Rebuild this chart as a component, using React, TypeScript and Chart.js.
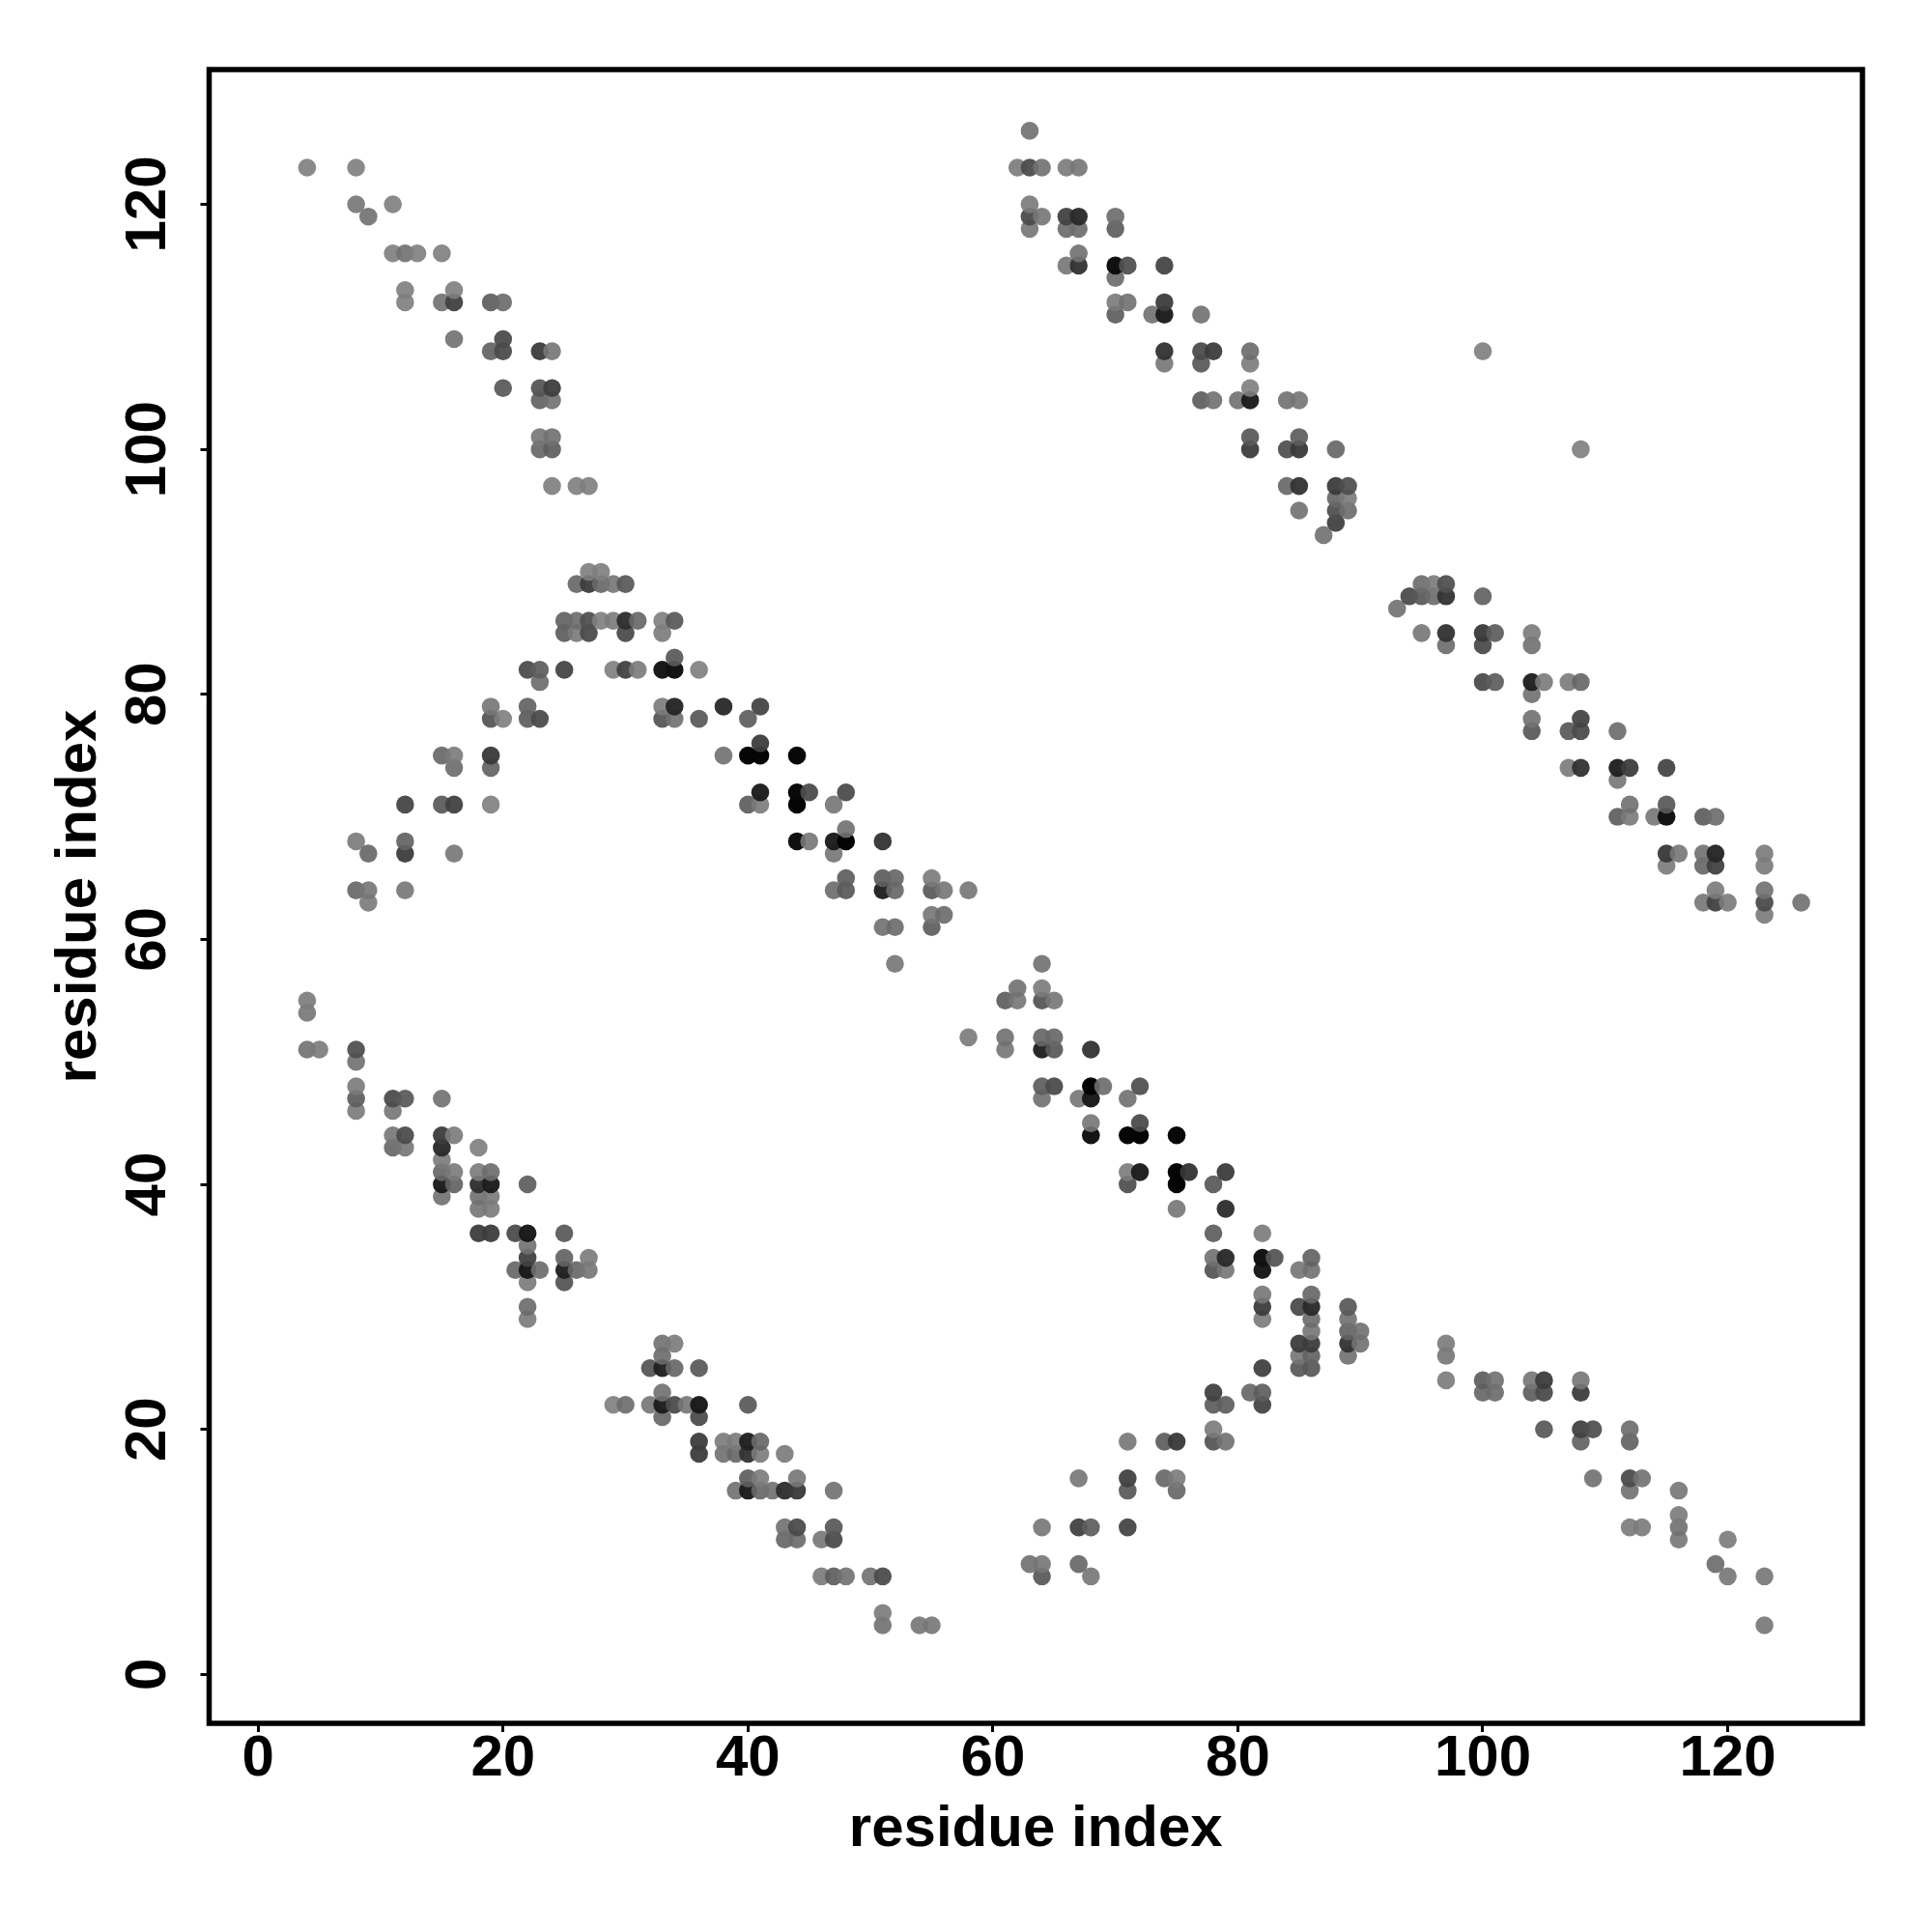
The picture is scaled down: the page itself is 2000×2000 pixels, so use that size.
import React, { useEffect, useRef } from "react";
import { Chart, registerables } from "chart.js";

Chart.register(...registerables);

// Each row: [residue y, x, grey, x, grey, ...]; grey is the printed level of the dot.
const upperLeftRows = [
  [123, 4, 138, 8, 138],
  [120, 8, 130, 11, 138],
  [119, 9, 125],
  [116, 11, 138, 12, 125, 13, 138, 15, 138],
  [113, 12, 138, 16, 138],
  [112, 12, 138, 15, 125, 16, 75, 19, 105, 20, 118],
  [109, 16, 125, 20, 85],
  [108, 19, 110, 20, 85, 23, 70, 24, 130],
  [105, 20, 100, 23, 95, 24, 72],
  [104, 23, 110, 24, 125],
  [101, 23, 130, 24, 125],
  [100, 23, 115, 24, 105],
  [97, 24, 138, 26, 138, 27, 138],
];

const middleLeftRows = [
  [90, 27, 138, 28, 138],
  [89, 26, 115, 27, 70, 28, 115, 29, 130, 30, 100],
  [86, 25, 110, 26, 120, 27, 90, 28, 138, 29, 135, 30, 55, 31, 115, 33, 138, 34, 100],
  [85, 25, 105, 26, 135, 27, 85, 30, 85, 33, 135],
  [83, 34, 100],
  [82, 22, 85, 23, 105, 25, 80, 29, 138, 30, 75, 31, 135, 33, 25, 34, 20, 36, 138],
  [81, 23, 120],
  [79, 19, 130, 22, 110, 33, 135, 34, 45, 38, 50],
  [78, 19, 95, 20, 138, 22, 105, 23, 85, 33, 95, 34, 125, 36, 100],
  [75, 15, 115, 16, 135, 19, 65, 38, 125],
  [74, 16, 120, 19, 110],
  [71, 12, 80, 15, 100, 16, 75, 19, 138],
  [68, 8, 135, 12, 110],
  [67, 9, 115, 12, 70, 16, 130],
  [64, 8, 115, 9, 130, 12, 130],
  [63, 9, 135],
];

const middleCentreRows = [
  [79, 41, 80],
  [78, 40, 105],
  [76, 41, 70],
  [75, 40, 5, 41, 5, 44, 8],
  [72, 41, 35, 44, 10, 45, 85, 48, 85],
  [71, 40, 105, 41, 135, 44, 5, 47, 130],
  [69, 48, 125],
  [68, 44, 15, 45, 130, 47, 35, 48, 3, 51, 60],
  [67, 47, 130],
  [65, 48, 105, 51, 105, 52, 115, 55, 135],
  [64, 47, 120, 48, 100, 51, 40, 52, 115, 55, 100, 56, 130, 58, 130],
  [62, 55, 130, 56, 120],
  [61, 51, 125, 52, 120, 55, 105],
  [58, 52, 130],
];

const lowerLeftRows = [
  [55, 4, 135],
  [54, 4, 130],
  [51, 4, 125, 5, 135, 8, 90],
  [50, 8, 125],
  [48, 8, 135],
  [47, 8, 105, 11, 85, 12, 100, 15, 125],
  [46, 8, 135, 11, 130],
  [44, 11, 130, 12, 85, 15, 70, 16, 135],
  [43, 11, 115, 12, 130, 15, 50, 18, 138],
  [42, 15, 135],
  [41, 15, 115, 16, 135, 18, 135, 19, 120],
  [40, 15, 35, 16, 110, 18, 55, 19, 35, 22, 105],
  [39, 15, 125, 18, 125, 19, 135],
  [38, 18, 130, 19, 135],
  [36, 18, 70, 19, 70, 21, 85, 22, 30, 25, 100],
  [35, 22, 125],
  [34, 22, 75, 25, 110, 27, 135],
  [33, 21, 115, 22, 30, 23, 120, 25, 40, 26, 115, 27, 130],
  [32, 22, 135, 25, 95],
  [30, 22, 120],
  [29, 22, 135],
];

const bottomCentreRows = [
  [27, 33, 125, 34, 135],
  [26, 33, 120],
  [25, 32, 95, 33, 40, 34, 115, 36, 100],
  [23, 33, 125],
  [22, 29, 138, 30, 120, 32, 130, 33, 35, 34, 85, 35, 130, 36, 30, 40, 100],
  [21, 33, 115, 36, 85],
  [19, 36, 70, 38, 135, 39, 135, 40, 40, 41, 115],
  [18, 36, 70, 38, 125, 39, 115, 40, 60, 41, 135, 43, 135],
  [16, 40, 105, 41, 135, 44, 130],
  [15, 39, 125, 40, 35, 41, 115, 42, 125, 43, 55, 44, 65, 47, 125],
  [12, 43, 125, 44, 85, 47, 100],
  [11, 43, 115, 44, 120, 46, 130, 47, 85],
  [8, 46, 135, 47, 105, 48, 125, 50, 125, 51, 85],
  [5, 51, 135],
  [4, 51, 125, 54, 130, 55, 130],
];

const upperRightRows = [
  [126, 63, 125],
  [123, 62, 135, 63, 85, 64, 125, 66, 135, 67, 130],
  [120, 63, 135],
  [119, 63, 85, 64, 130, 66, 75, 67, 50, 70, 120],
  [118, 63, 130, 66, 120, 67, 120, 70, 105],
  [116, 67, 125],
  [115, 66, 130, 67, 60, 70, 15, 71, 90, 74, 80],
  [114, 70, 120],
  [112, 70, 135, 71, 125, 74, 70],
  [111, 70, 105, 73, 125, 74, 35, 77, 125],
  [108, 74, 60, 77, 85, 78, 70, 81, 120, 100, 138],
  [107, 74, 130, 77, 100, 81, 135],
  [105, 81, 138],
  [104, 77, 105, 78, 125, 80, 125, 81, 35, 84, 125, 85, 130],
  [101, 81, 100, 85, 105],
  [100, 81, 70, 84, 90, 85, 65, 88, 115, 108, 138],
  [97, 84, 115, 85, 60, 88, 70, 89, 90],
  [96, 88, 115, 89, 135],
  [95, 85, 125, 88, 90, 89, 120],
  [94, 88, 75],
  [93, 87, 125],
];

const farRightRows = [
  [89, 95, 120, 96, 135, 97, 90],
  [88, 94, 85, 95, 100, 96, 120, 97, 60, 100, 110],
  [87, 93, 125],
  [85, 95, 130, 97, 60, 100, 65, 101, 105, 104, 135],
  [84, 97, 120, 100, 85, 104, 125],
  [81, 100, 85, 101, 105, 104, 40, 105, 135, 107, 135, 108, 115],
  [80, 104, 125],
  [78, 104, 125, 108, 80],
  [77, 104, 100, 107, 100, 108, 85, 111, 120],
  [74, 107, 135, 108, 60, 111, 40, 112, 70, 115, 80],
  [73, 111, 130],
  [71, 112, 125, 115, 100],
  [70, 111, 105, 112, 135, 114, 130, 115, 20, 118, 105, 119, 120],
  [67, 115, 65, 116, 130, 118, 125, 119, 45, 123, 135],
  [66, 115, 135, 118, 115, 119, 75, 123, 135],
  [64, 119, 135, 123, 125],
  [63, 118, 130, 119, 75, 120, 135, 123, 85, 126, 125],
  [62, 123, 135],
];

const lowerCentreRows = [
  [58, 64, 125],
  [56, 62, 125, 64, 135],
  [55, 61, 105, 62, 130, 64, 95, 65, 130],
  [52, 58, 135, 61, 125, 64, 115, 65, 115],
  [51, 61, 130, 64, 40, 65, 100, 68, 60],
  [48, 64, 105, 65, 85, 68, 3, 69, 120, 72, 90],
  [47, 64, 125, 67, 130, 68, 30, 71, 125],
  [45, 68, 130, 72, 85],
  [44, 68, 20, 71, 5, 72, 5, 75, 8],
  [41, 71, 135, 72, 35, 75, 5, 76, 60, 79, 70],
  [40, 71, 90, 75, 5, 78, 100],
  [38, 75, 130, 79, 55],
  [36, 78, 105, 82, 135],
  [34, 78, 125, 79, 50, 82, 20, 83, 95, 86, 110],
  [33, 78, 95, 79, 130, 82, 30, 85, 130, 86, 125],
  [31, 82, 130, 86, 115],
  [30, 82, 70, 85, 85, 86, 50, 89, 100],
  [29, 82, 135, 86, 120, 89, 125],
  [28, 86, 130, 89, 110, 90, 125],
  [27, 85, 70, 86, 70, 89, 60, 90, 125],
  [26, 85, 130, 86, 110, 89, 125],
  [25, 82, 75, 85, 100, 86, 100],
  [23, 78, 75, 81, 115, 82, 105],
  [22, 78, 105, 79, 105, 82, 80],
  [20, 78, 135],
  [19, 71, 130, 74, 105, 75, 65, 78, 95, 79, 125],
  [16, 67, 130, 71, 75, 74, 115, 75, 135],
  [15, 71, 100, 75, 115],
  [12, 64, 130, 67, 75, 68, 105, 71, 80],
  [9, 63, 125, 64, 130, 67, 115],
  [8, 64, 100, 68, 130],
];

const lowerRightRows = [
  [27, 97, 135],
  [26, 97, 130],
  [24, 97, 135, 100, 105, 101, 125, 104, 130, 105, 70, 108, 130],
  [23, 100, 115, 101, 120, 104, 105, 105, 85, 108, 70],
  [20, 105, 100, 108, 75, 109, 90, 112, 120],
  [19, 108, 110, 112, 110],
  [16, 109, 125, 112, 85, 113, 125],
  [15, 112, 125, 116, 130],
  [13, 116, 135],
  [12, 112, 135, 113, 135, 116, 125],
  [11, 116, 130, 120, 135],
  [9, 119, 120],
  [8, 120, 130, 123, 130],
  [4, 123, 130],
];

const tickValues = [0, 20, 40, 60, 80, 100, 120];
const axisTitle = "residue index";
const AXIS_MIN = -4;
const AXIS_MAX = 131;
const FONT_FAMILY = '"Liberation Sans", Arial, sans-serif';

type Contact = { x: number; y: number; grey: number };

function buildContacts(): Contact[] {
  const all = [
    ...upperLeftRows,
    ...middleLeftRows,
    ...middleCentreRows,
    ...lowerLeftRows,
    ...bottomCentreRows,
    ...upperRightRows,
    ...farRightRows,
    ...lowerCentreRows,
    ...lowerRightRows,
  ];
  const out: Contact[] = [];
  for (const row of all) {
    for (let i = 1; i < row.length; i += 2) {
      out.push({ x: row[i], y: row[0], grey: row[i + 1] });
    }
  }
  // The reference paints column by column, bottom to top.
  out.sort((a, b) => a.x - b.x || a.y - b.y);
  return out;
}

function dotColour(grey: number): string {
  const alpha = 1 - (0.09 * grey) / 138;
  const c = Math.max(0, Math.round((grey - 255 * (1 - alpha)) / alpha));
  return `rgba(${c},${c},${c},${alpha.toFixed(3)})`;
}

const framePlugin = {
  id: "frameAndRotatedTicks",
  afterDraw(chart: any) {
    const { ctx, chartArea: a, scales } = chart;
    ctx.save();
    ctx.strokeStyle = "#000";
    ctx.lineWidth = 5.5;
    ctx.lineJoin = "miter";
    ctx.strokeRect(a.left, a.top, a.right - a.left, a.bottom - a.top);
    ctx.fillStyle = "#000";
    ctx.font = `bold 60px ${FONT_FAMILY}`;
    ctx.textAlign = "center";
    ctx.textBaseline = "alphabetic";
    for (const v of tickValues) {
      ctx.save();
      ctx.translate(171, scales.y.getPixelForValue(v));
      ctx.rotate(-Math.PI / 2);
      ctx.fillText(String(v), 0, 0);
      ctx.restore();
    }
    ctx.restore();
  },
};

export default function App() {
  const ref = useRef<HTMLCanvasElement | null>(null);
  useEffect(() => {
    if (!ref.current) return;
    const contacts = buildContacts();
    const tickGrid = {
      display: true,
      drawOnChartArea: false,
      drawTicks: true,
      tickLength: 9,
      tickWidth: 3,
      tickColor: "#000",
    };
    const chart = new Chart(ref.current, {
      type: "scatter",
      data: {
        datasets: [
          {
            label: "contacts",
            data: contacts.map((c) => ({ x: c.x, y: c.y })),
            pointRadius: 9.3,
            pointHoverRadius: 9.3,
            pointBorderWidth: 0,
            pointBackgroundColor: contacts.map((c) => dotColour(c.grey)),
          },
        ],
      },
      options: {
        animation: false,
        responsive: false,
        devicePixelRatio: 1,
        layout: { padding: { top: 72, right: 72, left: 0, bottom: 0 } },
        plugins: { legend: { display: false }, tooltip: { enabled: false } },
        scales: {
          x: {
            type: "linear",
            min: AXIS_MIN,
            max: AXIS_MAX,
            afterFit: (s: any) => {
              s.height = 216;
            },
            afterBuildTicks: (s: any) => {
              s.ticks = tickValues.map((value) => ({ value }));
            },
            border: { display: false },
            grid: tickGrid,
            ticks: {
              includeBounds: false,
              maxRotation: 0,
              minRotation: 0,
              padding: -8,
              color: "#000",
              autoSkip: false,
              font: { family: FONT_FAMILY, size: 60, weight: "bold" },
            },
            title: {
              display: true,
              text: axisTitle,
              color: "#000",
              padding: { top: 0, bottom: 70 },
              font: { family: FONT_FAMILY, size: 60, weight: "bold" },
            },
          },
          y: {
            type: "linear",
            min: AXIS_MIN,
            max: AXIS_MAX,
            afterFit: (s: any) => {
              s.width = 216.5;
            },
            afterBuildTicks: (s: any) => {
              s.ticks = tickValues.map((value) => ({ value }));
            },
            border: { display: false },
            grid: tickGrid,
            ticks: {
              includeBounds: false,
              display: false,
            },
            title: {
              display: true,
              text: axisTitle,
              color: "#000",
              padding: { top: 46, bottom: 0 },
              font: { family: FONT_FAMILY, size: 60, weight: "bold" },
            },
          },
        },
      },
      plugins: [framePlugin],
    } as any);
    return () => chart.destroy();
  }, []);
  return (
    <canvas
      ref={ref}
      width={2000}
      height={2000}
      style={{ position: "absolute", left: 0, top: 0, width: 2000, height: 2000, display: "block" }}
    />
  );
}
